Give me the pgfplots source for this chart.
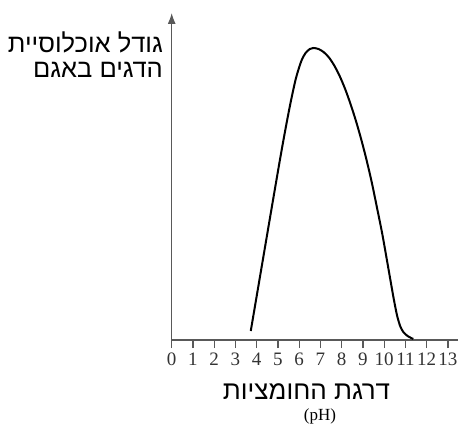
\documentclass[border=0pt]{standalone}
\usepackage{fontspec}
\setmainfont{Liberation Serif}
\newfontfamily\hebfont[Script=Hebrew]{Liberation Sans}
\TeXXeTstate=1
\usepackage{pgfplots}
\pgfplotsset{compat=1.18}
\usetikzlibrary{arrows.meta}

\begin{document}
\begin{tikzpicture}
\path[use as bounding box] (0pt,0pt) rectangle (458pt,424pt);
\begin{axis}[
    x=21.25pt, y=1pt,
    anchor=origin, at={(171.7pt,84pt)},
    xmin=0, xmax=13.47, ymin=0, ymax=327,
    enlargelimits=false,
    axis x line=bottom, axis y line=left,
    x axis line style={-, draw=black!65, line width=1.2pt},
    y axis line style={-{Latex[length=11pt,width=8pt]}, draw=black!65, line width=1.2pt},
    xtick={0,...,13}, ytick=\empty,
    xticklabels={0,1,2,3,4,5,6,7,8,9,10,11,12,13},
    tick align=outside, major tick length=8pt,
    xtick style={draw=black!65, line width=1.2pt},
    xticklabel style={font=\fontsize{19}{21}\selectfont, inner sep=0pt, yshift=-5pt, text=black!80},
    clip=false,
]
% population size vs pH
\addplot[black, line width=2pt, smooth, tension=0.5] coordinates {
    (3.72,9) (4.20,69) (4.70,131.5) (5.10,181) (5.35,210.5) (5.60,238)
    (5.85,262) (6.10,279) (6.30,287) (6.50,291) (6.66,292)
    (6.91,291) (7.16,287.75) (7.41,282.25) (7.66,274.1) (7.91,263.7)
    (8.16,251.1) (8.41,236.3) (8.66,219.8) (8.91,201.3) (9.16,180.8)
    (9.41,158.1) (9.66,132.4) (9.91,106) (10.16,76) (10.30,59)
    (10.45,41) (10.60,25) (10.75,14) (10.90,8) (11.10,4) (11.37,1)
};
\end{axis}
\node[anchor=base east, inner sep=0pt, font=\hebfont\fontsize{25.5}{28}\selectfont] at (163pt,371pt) {\beginR גודל אוכלוסיית\endR};
\node[anchor=base east, inner sep=0pt, font=\hebfont\fontsize{25.5}{28}\selectfont] at (163pt,346pt) {\beginR הדגים באגם\endR};
\node[anchor=base, inner sep=0pt, font=\hebfont\fontsize{26}{30}\selectfont] at (306.5pt,25pt) {\beginR דרגת החומציות\endR};
\node[anchor=base, inner sep=0pt, font=\fontsize{17}{20}\selectfont] at (320pt,4pt) {(pH)};
\end{tikzpicture}
\end{document}
